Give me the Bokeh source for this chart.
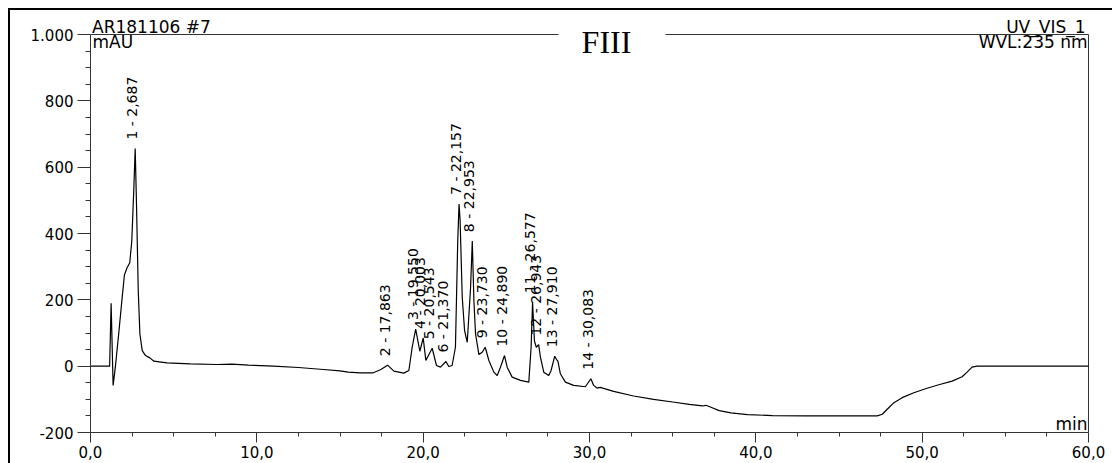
import math
from bokeh.plotting import figure
from bokeh.models import Range1d, FixedTicker, Label, ColumnDataSource
from bokeh.core.properties import value
from bokeh.embed import file_html
from bokeh.resources import INLINE

# ---- chromatogram trace (min, mAU) ----
time_min = [0.0, 1.15, 1.24, 1.36, 1.50, 1.70, 1.90, 2.04, 2.20, 2.36, 2.48, 2.60, 2.687,
            2.77, 2.87, 2.97, 3.11, 3.31, 3.57, 3.81, 4.6, 6.0, 7.6, 8.5, 9.5, 11.0, 12.5,
            14.0, 15.0, 15.5, 16.2, 17.0, 17.43, 17.863, 18.24, 18.84, 19.14, 19.34, 19.55,
            19.80, 20.003, 20.16, 20.543, 20.80, 21.04, 21.37, 21.54, 21.74, 21.94, 22.08,
            22.157, 22.22, 22.35, 22.49, 22.65, 22.85, 22.953, 23.05, 23.15, 23.35, 23.55,
            23.73, 23.95, 24.25, 24.45, 24.65, 24.89, 25.05, 25.35, 25.85, 26.35, 26.49,
            26.577, 26.69, 26.80, 26.943, 27.05, 27.25, 27.55, 27.69, 27.91, 28.02, 28.10,
            28.25, 28.55, 29.05, 29.75, 30.083, 30.25, 30.45, 30.65, 31.45, 32.65, 33.85,
            35.0, 36.0, 36.8, 37.0, 37.3, 37.8, 38.5, 39.5, 41.0, 43.0, 45.0, 47.3, 47.6,
            47.9, 48.3, 48.8, 49.5, 50.2, 51.0, 51.8, 52.4, 52.7, 53.0, 53.3, 60.0]
absorb_mau = [0, 0, 190, -58, 0, 100, 205, 275, 297, 312, 376, 528, 656,
              478, 228, 97, 47, 32, 25, 15, 10, 7, 5, 6, 3, 0, -4,
              -10, -14, -18, -20, -20, -11, 3, -15, -21, -13, 57, 112,
              45, 85, 17, 54, 2, -3, 14, -1, 2, 57, 380,
              489, 440, 207, 107, 72, 237, 377, 197, 97, 35, 42,
              57, 17, -18, -28, -3, 32, -3, -33, -43, -48, 57,
              193, 76, 57, 65, 27, -18, -28, -13, 30, 20, 15,
              -23, -48, -58, -62, -38, -58, -66, -64, -76, -90, -100,
              -108, -115, -120, -118, -124, -134, -141, -146, -149, -150, -150, -150, -145,
              -130, -110, -95, -80, -68, -56, -45, -32, -18, -3, 0, 0]

# ---- peak annotations ----
peak_rt = [2.687, 17.863, 19.550, 20.003, 20.543, 21.370, 22.157, 22.953, 23.730,
           24.890, 26.577, 26.943, 27.910, 30.083]
peak_height = [656, 3, 112, 85, 54, 14, 489, 377, 57, 32, 193, 65, 30, -38]
peak_labels = ["1 - 2,687", "2 - 17,863", "3 - 19,550", "4 - 20,003", "5 - 20,543",
               "6 - 21,370", "7 - 22,157", "8 - 22,953", "9 - 23,730", "10 - 24,890",
               "11 - 26,577", "12 - 26,943", "13 - 27,910", "14 - 30,083"]

# ---- axes ----
x_ticks = [0, 10, 20, 30, 40, 50, 60]
x_tick_labels = ["0,0", "10,0", "20,0", "30,0", "40,0", "50,0", "60,0"]
x_minor = [2.5, 5, 7.5, 12.5, 15, 17.5, 22.5, 25, 27.5, 32.5, 35, 37.5, 42.5, 45, 47.5,
           52.5, 55, 57.5]
y_ticks = [-200, 0, 200, 400, 600, 800, 1000]
y_tick_labels = ["-200", "0", "200", "400", "600", "800", "1.000"]
y_minor = [-150, -100, -50, 50, 100, 150, 250, 300, 350, 450, 500, 550, 650, 700, 750,
           850, 900, 950]

title_text = "FIII"
sample_text = "AR181106 #7"
unit_text = "mAU"
channel_text = "UV_VIS_1"
wvl_text = "WVL:235 nm"
xunit_text = "min"

# ---- layout (pixels) ----
W, H = 1102, 453
BL, BB = 80, 31                 # left / bottom borders
AXIS_W, AXIS_H = 998, 398       # pixel extent of the 0..60 / -200..1000 axes
FONT = "DejaVu Sans"
AX = "#333333"
HEAD = 17                       # header font size, px
TITLE = 32                      # title font size, px
BASE_FIX = 0.37                 # baseline correction, em

x0, x1 = x_ticks[0], x_ticks[-1]
y0, y1 = y_ticks[0], y_ticks[-1]
x_end = x0 + (x1 - x0) * (W - BL) / AXIS_W
y_end = y0 + (y1 - y0) * (H - BB) / AXIS_H
ppx = AXIS_W / (x1 - x0)        # px per minute
ppy = AXIS_H / (y1 - y0)        # px per mAU


def dx(px):
    return px / ppx


def dy(px):
    return px / ppy


p = figure(width=W, height=H, x_range=Range1d(x0, x_end), y_range=Range1d(y0, y_end),
           output_backend="svg", toolbar_location=None,
           min_border_left=BL, min_border_right=0, min_border_top=0, min_border_bottom=BB,
           margin=(10, 0, 0, 10), styles={"outline": "2px solid #000000"})
p.outline_line_color = None
p.xgrid.visible = False
p.ygrid.visible = False
p.background_fill_color = "white"
p.border_fill_color = "white"

xa = p.xaxis[0]
xa.bounds = (x0, x1)
xa.ticker = FixedTicker(ticks=x_ticks, minor_ticks=x_minor)
xa.major_label_overrides = dict(zip(x_ticks, x_tick_labels))
xa.major_tick_out = 10
xa.major_tick_in = 0
xa.minor_tick_out = 4
xa.minor_tick_in = 0
xa.major_label_standoff = 3
xa.major_label_text_font = FONT
xa.major_label_text_font_size = "15px"
xa.major_label_text_color = "black"
xa.axis_line_color = AX
xa.major_tick_line_color = AX
xa.minor_tick_line_color = AX

ya = p.yaxis[0]
ya.bounds = (y0, y1)
ya.ticker = FixedTicker(ticks=y_ticks, minor_ticks=y_minor)
ya.major_label_overrides = dict(zip(y_ticks, y_tick_labels))
ya.major_tick_out = 13
ya.major_tick_in = 0
ya.minor_tick_out = 5
ya.minor_tick_in = 0
ya.major_label_standoff = 4
ya.major_label_text_font = FONT
ya.major_label_text_font_size = "15px"
ya.major_label_text_color = "black"
ya.axis_line_color = AX
ya.major_tick_line_color = AX
ya.minor_tick_line_color = AX

# frame: right edge and top edge (top edge broken around the title)
title_cx = x0 + dx(516)
gap_l, gap_r = x0 + dx(468), x0 + dx(575)
p.segment(x0=[x1, x0, gap_r], y0=[y0, y1, y1], x1=[x1, gap_l, x1], y1=[y1, y1, y1],
          line_color=AX, line_width=1)

# chromatogram
p.line(time_min, absorb_mau, line_color="black", line_width=1.2)

# peak labels
src = ColumnDataSource(dict(x=peak_rt, y=peak_height, text=peak_labels))
p.text(x="x", y="y", text="text", source=src, angle=math.pi / 2, text_align="left",
       text_baseline="middle", x_offset=-3, y_offset=-9, text_font=value(FONT),
       text_font_size="14px", text_color="black")


def add_label(text, x, y, align, size=HEAD, font=FONT):
    p.add_layout(Label(x=x, y=y, text=text, text_align=align, text_baseline="alphabetic",
                       text_font_size=f"{size}px", text_font=font, text_color="black"))


fix = BASE_FIX * HEAD
add_label(sample_text, x0 + dx(1.5), y1 + dy(1.3 + fix), "left")
add_label(unit_text, x0 + dx(2), y1 + dy(-14 + fix), "left")
add_label(channel_text, x1 - dx(3), y1 + dy(1.3 + fix), "right")
add_label(wvl_text, x1 - dx(1), y1 + dy(-14 + fix), "right")
add_label(xunit_text, x1 - dx(1), y0 + dy(2 + fix), "right")
add_label(title_text, title_cx, y1 + dy(-19 + BASE_FIX * TITLE), "center",
          size=TITLE, font="Liberation Serif")

open("out.html", "w").write(file_html(p, INLINE))
